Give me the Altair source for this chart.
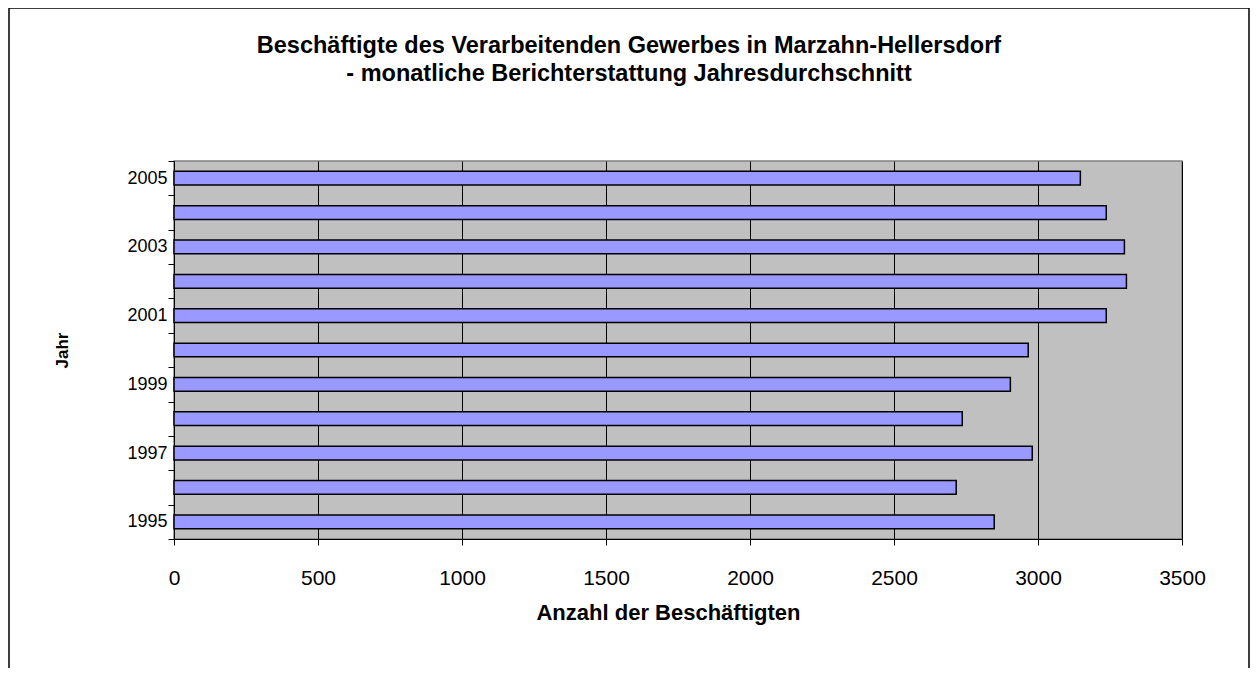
import altair as alt
import pandas as pd

years = [2005, 2004, 2003, 2002, 2001, 2000, 1999, 1998, 1997, 1996, 1995]
employees = [3147, 3237, 3300, 3307, 3237, 2966, 2904, 2737, 2980, 2716, 2848]
x_ticks = [0, 500, 1000, 1500, 2000, 2500, 3000, 3500]
title_lines = ["Beschäftigte des Verarbeitenden Gewerbes in Marzahn-Hellersdorf",
               "- monatliche Berichterstattung Jahresdurchschnitt"]
x_title = "Anzahl der Beschäftigten"
y_title = "Jahr"

df = pd.DataFrame({"Jahr": years, "Beschaeftigte": employees})

FONT = "Liberation Sans"
W, H = 1008, 378

bars = alt.Chart(df).mark_bar(
    height={"band": 0.4}, color="#9999FF", stroke="#000000", strokeWidth=1.5
).encode(
    x=alt.X("Beschaeftigte:Q",
            scale=alt.Scale(domain=[0, 3500], nice=False),
            axis=alt.Axis(values=x_ticks, title=x_title, grid=True, format="d",
                          labelFlush=False, labelOverlap=False,
                          gridColor="#000000", gridWidth=1,
                          domainColor="#000000", tickColor="#000000",
                          tickSize=6, labelPadding=22, labelFontSize=21,
                          labelFont=FONT, labelColor="#000000",
                          titleFont=FONT, titleFontSize=22, titleFontWeight="bold",
                          titleColor="#000000", titleX=494, titleY=73,
                          titleBaseline="middle", titleAlign="center")),
    y=alt.Y("Jahr:O", sort="descending",
            scale=alt.Scale(paddingInner=0, paddingOuter=0),
            axis=alt.Axis(title=y_title, tickBand="extent",
                          labelExpr="datum.value % 2 == 1 ? datum.label : ''",
                          domainColor="#000000", tickColor="#000000",
                          tickSize=6, labelPadding=1, labelFontSize=18,
                          labelFont=FONT, labelColor="#000000",
                          titleFont=FONT, titleFontSize=17, titleFontWeight="bold",
                          titleColor="#000000", titleX=-112, titleY=189,
                          titleBaseline="middle", titleAlign="center", titleAngle=-90)),
)

one = pd.DataFrame({"k": [0]})
title_text = alt.Chart(one).mark_text(
    font=FONT, fontSize=23.5, fontWeight="bold", lineHeight=28,
    align="center", baseline="middle", color="#000000"
).encode(x=alt.value(455), y=alt.value(-115), text=alt.value(title_lines))

frame = alt.Chart(one).mark_rect(
    fill="#ffffff", fillOpacity=0, stroke="#000000", strokeWidth=1.5
).encode(x=alt.value(-165), x2=alt.value(1075), y=alt.value(-153), y2=alt.value(700))

chart = alt.layer(bars, title_text, frame).properties(
    width=W, height=H,
    autosize=alt.AutoSizeParams(type="none"),
    padding={"left": 166, "top": 153, "right": 68, "bottom": 129},
    background="#ffffff",
).configure_view(fill="#C0C0C0", stroke="#808080", strokeWidth=1.5)

chart.save("out.html", embed_options={"renderer": "svg", "actions": False})
